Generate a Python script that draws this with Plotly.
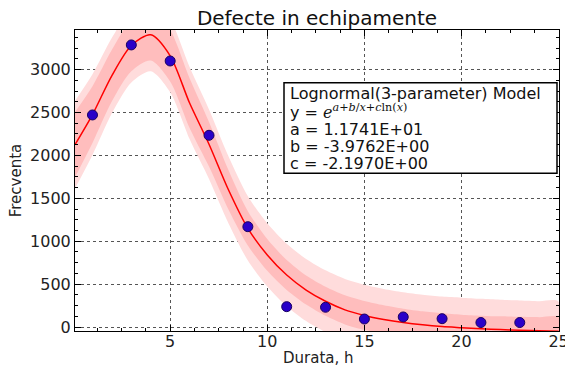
import plotly.graph_objects as go

# Observed data
x_obs = [1, 3, 5, 7, 9, 11, 13, 15, 17, 19, 21, 23]
y_obs = [2471, 3287, 3100, 2234, 1169, 237, 230, 93, 117, 97, 52, 52]

# Fitted curve
x_fit = [0.1, 1, 2, 3, 4, 5, 6, 7, 8, 9, 10, 11, 12, 13, 14, 15, 16, 17, 18, 19, 20, 21, 22, 23, 24, 25]
y_fit = [2125, 2475, 2930, 3280, 3405, 3160, 2610, 2130, 1600, 1150, 840, 606, 431, 300, 200, 135,
         88, 52, 25, 5, -8, -20, -30, -38, -45, -50]
# half widths of confidence (inner) and prediction (outer) bands
conf_hw = [380, 330, 300, 300, 300, 300, 290, 260, 230, 200, 185, 175, 170, 170, 170, 168,
           165, 162, 158, 155, 152, 152, 154, 157, 160, 162]
pred_hw = [510, 470, 440, 430, 425, 425, 420, 405, 390, 375, 368, 364, 362, 360, 360, 358,
           356, 354, 352, 350, 350, 348, 347, 346, 345, 345]

title = "Defecte in echipamente"
x_label = "Durata, h"
y_label = "Frecventa"
model_lines = [
    "Lognormal(3-parameter) Model",
    "y = <span style=\"font-family:'DejaVu Serif'\"><i>e</i><sup><i>a</i>+<i>b</i>/<i>x</i>+<i>c</i>ln(<i>x</i>)</sup></span>",
    "a = 1.1741E+01",
    "b = -3.9762E+00",
    "c = -2.1970E+00",
]

FONT = "DejaVu Sans"
ML, MR, MT, MB = 75, 6, 30, 36
W, H = 565, 367
PW, PH = W - ML - MR, H - MT - MB


def px_x(px):
    return (px - ML) / PW


def px_y(py):
    return (H - MB - py) / PH


def band(hw):
    up = [y + h for y, h in zip(y_fit, hw)]
    lo = [y - h for y, h in zip(y_fit, hw)]
    return x_fit + x_fit[::-1], up + lo[::-1]


fig = go.Figure()
bx, by = band(pred_hw)
fig.add_trace(go.Scatter(x=bx, y=by, fill="toself", fillcolor="#ffdcdc",
                         line=dict(width=0, shape="spline", smoothing=0.8), mode="lines",
                         hoverinfo="skip", showlegend=False))
bx, by = band(conf_hw)
fig.add_trace(go.Scatter(x=bx, y=by, fill="toself", fillcolor="#ffbdbd",
                         line=dict(width=0, shape="spline", smoothing=0.8), mode="lines",
                         hoverinfo="skip", showlegend=False))
fig.add_trace(go.Scatter(x=x_fit, y=y_fit, mode="lines",
                         line=dict(color="#ff0000", width=1.5, shape="spline", smoothing=0.8),
                         showlegend=False))
fig.add_trace(go.Scatter(x=x_obs, y=y_obs, mode="markers",
                         marker=dict(color="#2a00c8", size=10, line=dict(color="#1a0060", width=1)),
                         showlegend=False))

axis_common = dict(
    showline=True, linecolor="black", linewidth=1, mirror="ticks",
    ticks="inside", ticklen=6, tickcolor="black",
    showgrid=True, gridcolor="#555555", griddash="dot", gridwidth=1,
    zeroline=False, ticklabeloverflow="allow", automargin=False,
    tickfont=dict(family=FONT, size=16, color="#222222"),
)

fig.update_xaxes(range=[0.1, 25.02], tick0=0, dtick=5, ticklabelstandoff=-4,
                 minor=dict(dtick=1.25, tick0=0, ticks="inside", ticklen=3, tickcolor="black", showgrid=False),
                 **axis_common)
fig.update_yaxes(range=[-46.6, 3461], tick0=0, dtick=500,
                 minor=dict(dtick=125, tick0=0, ticks="inside", ticklen=3, tickcolor="black", showgrid=False),
                 title=dict(text=y_label, font=dict(family=FONT, size=15, color="#222222"), standoff=4),
                 **axis_common)

# x axis title
fig.add_annotation(xref="paper", yref="paper", x=px_x(318), y=px_y(358), xanchor="center",
                   yanchor="middle", text=x_label, showarrow=False,
                   font=dict(family=FONT, size=15, color="#222222"))

# model box
fig.add_shape(type="rect", xref="paper", yref="paper",
              x0=px_x(284), x1=px_x(557), y0=px_y(173.3), y1=px_y(82.7),
              line=dict(color="black", width=1.5), fillcolor="white", layer="above")
line_y = [93.5, 111.5, 129.5, 146.5, 163.5]
for txt, py in zip(model_lines, line_y):
    fig.add_annotation(
        xref="paper", yref="paper", x=px_x(288), y=px_y(py), xanchor="left", yanchor="middle",
        text=txt, align="left", showarrow=False,
        font=dict(family=FONT, size=16, color="#111111"),
    )

fig.update_layout(
    width=W, height=H,
    margin=dict(l=ML, r=MR, t=MT, b=MB, autoexpand=False),
    paper_bgcolor="white", plot_bgcolor="white",
    title=dict(text=title, x=317 / W, xanchor="center", y=1 - 18 / H, yanchor="middle",
               font=dict(family=FONT, size=20, color="#111111")),
    showlegend=False,
)

fig.write_html("out.html")
